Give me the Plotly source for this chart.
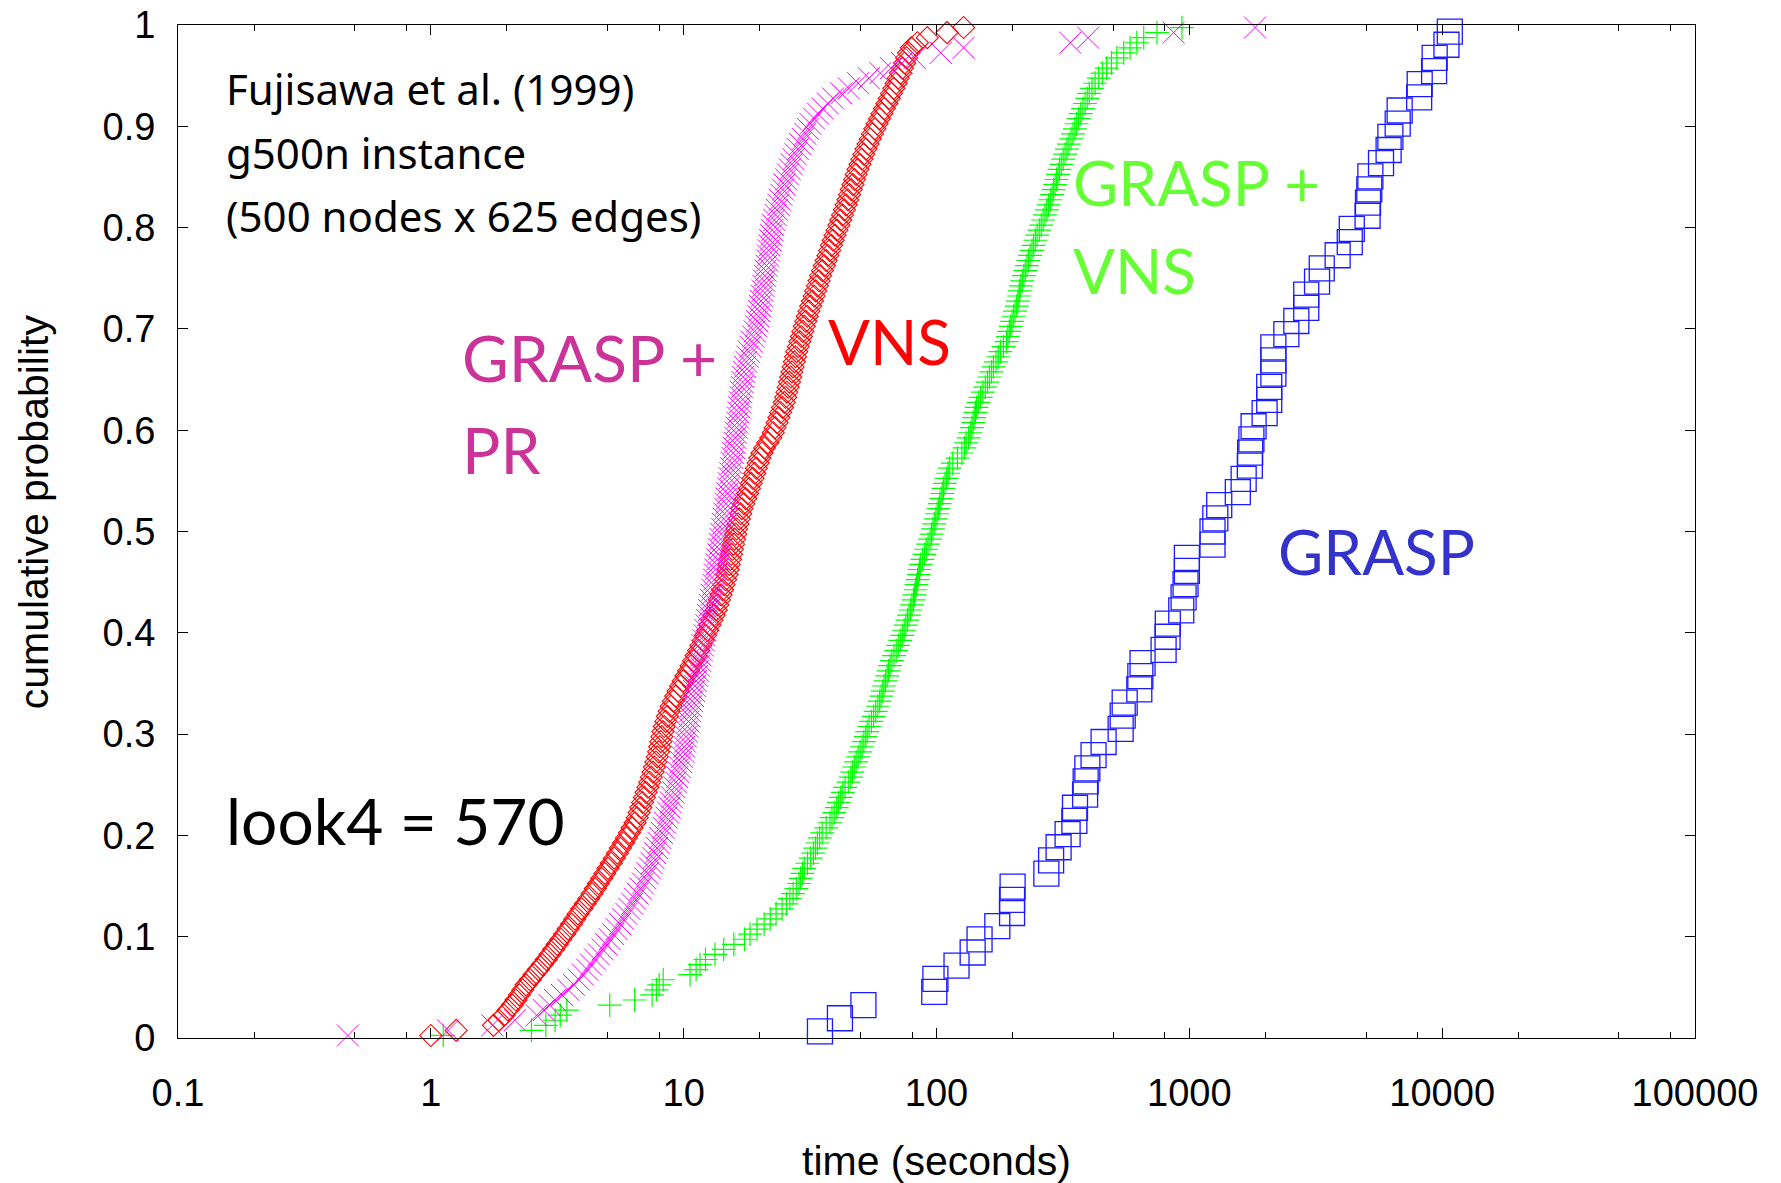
import plotly.graph_objects as go

# run times (seconds), sorted; 200 runs per method, 77 for GRASP
grasp_pr_times = [
    0.47, 1.17, 1.75, 2.15, 2.62, 2.80, 2.95, 3.10, 3.30, 3.50,
    3.68, 3.85, 4.00, 4.15, 4.30, 4.46, 4.62, 4.78, 4.94, 5.10,
    5.26, 5.43, 5.60, 5.77, 5.94, 6.10, 6.26, 6.42, 6.58, 6.74,
    6.90, 7.05, 7.20, 7.35, 7.48, 7.60, 7.72, 7.84, 7.96, 8.08,
    8.20, 8.32, 8.44, 8.56, 8.68, 8.80, 8.90, 9.00, 9.10, 9.20,
    9.31, 9.42, 9.53, 9.64, 9.75, 9.86, 9.97, 10.05, 10.13, 10.21,
    10.29, 10.37, 10.45, 10.53, 10.61, 10.70, 10.80, 10.90, 11.00, 11.10,
    11.20, 11.30, 11.40, 11.50, 11.60, 11.70, 11.80, 11.90, 12.00, 12.10,
    12.20, 12.30, 12.40, 12.50, 12.60, 12.70, 12.80, 12.90, 13.00, 13.10,
    13.20, 13.30, 13.40, 13.50, 13.60, 13.70, 13.80, 13.90, 14.00, 14.10,
    14.20, 14.30, 14.40, 14.50, 14.60, 14.70, 14.80, 14.90, 15.00, 15.10,
    15.20, 15.30, 15.40, 15.50, 15.60, 15.70, 15.80, 15.90, 16.00, 16.10,
    16.20, 16.30, 16.40, 16.50, 16.60, 16.70, 16.80, 16.90, 17.00, 17.10,
    17.20, 17.35, 17.50, 17.70, 17.90, 18.10, 18.35, 18.60, 18.85, 19.10,
    19.35, 19.55, 19.75, 19.90, 20.05, 20.20, 20.35, 20.50, 20.65, 20.80,
    20.95, 21.10, 21.25, 21.40, 21.55, 21.70, 21.85, 22.00, 22.20, 22.40,
    22.60, 22.85, 23.10, 23.40, 23.70, 24.00, 24.35, 24.70, 25.05, 25.45,
    25.85, 26.30, 26.75, 27.20, 27.70, 28.30, 28.90, 29.60, 30.30, 31.00,
    31.70, 32.80, 34.00, 35.50, 37.20, 39.0, 42.0, 45.0, 49.0, 54.0,
    60.0, 66.0, 73.0, 82.0, 104.0, 128.0, 338.0, 398.0, 867.0, 1820.0,
]

vns_times = [
    1.00, 1.26, 1.77, 1.86, 1.95, 2.02, 2.10, 2.17, 2.24, 2.31,
    2.38, 2.47, 2.56, 2.66, 2.76, 2.86, 2.96, 3.06, 3.16, 3.27,
    3.38, 3.49, 3.60, 3.71, 3.82, 3.95, 4.08, 4.21, 4.34, 4.47,
    4.60, 4.74, 4.88, 5.02, 5.17, 5.32, 5.47, 5.62, 5.78, 5.94,
    6.10, 6.25, 6.42, 6.55, 6.66, 6.77, 6.88, 6.99, 7.10, 7.22,
    7.34, 7.45, 7.56, 7.66, 7.76, 7.86, 7.96, 8.04, 8.12, 8.20,
    8.28, 8.38, 8.50, 8.62, 8.76, 8.92, 9.10, 9.30, 9.50, 9.72,
    9.95, 10.2, 10.45, 10.7, 10.95, 11.2, 11.45, 11.7, 11.95, 12.2,
    12.45, 12.7, 12.95, 13.2, 13.45, 13.65, 13.85, 14.05, 14.25, 14.45,
    14.65, 14.85, 15.0, 15.15, 15.3, 15.45, 15.6, 15.75, 15.9, 16.05,
    16.2, 16.4, 16.6, 16.8, 17.0, 17.3, 17.6, 17.9, 18.2, 18.5,
    18.8, 19.1, 19.4, 19.7, 20.0, 20.4, 20.9, 21.5, 22.1, 22.6,
    23.0, 23.4, 23.8, 24.2, 24.6, 25.0, 25.3, 25.6, 25.9, 26.2,
    26.5, 26.8, 27.1, 27.4, 27.7, 28.0, 28.4, 28.8, 29.2, 29.6,
    30.0, 30.4, 30.8, 31.3, 31.8, 32.3, 32.8, 33.3, 33.8, 34.3,
    34.8, 35.4, 36.0, 36.6, 37.2, 37.8, 38.4, 39.0, 39.7, 40.4,
    41.1, 41.8, 42.5, 43.2, 43.9, 44.6, 45.3, 46.0, 46.7, 47.4,
    48.1, 48.9, 49.8, 50.7, 51.6, 52.6, 53.6, 54.7, 55.8, 57.0,
    58.2, 59.5, 60.8, 62.2, 63.6, 65.0, 66.4, 67.8, 69.2, 70.6,
    72.0, 73.4, 74.8, 76.2, 77.6, 79.5, 84.0, 92.0, 110.0, 128.0,
]

grasp_vns_times = [
    1.12, 2.50, 2.85, 3.10, 3.25, 3.45, 5.1, 6.4, 7.5, 7.8,
    8.0, 8.3, 10.6, 11.2, 11.6, 12.2, 13.3, 14.4, 15.8, 17.4,
    18.3, 19.5, 20.8, 22.0, 23.2, 24.5, 25.5, 26.3, 27.1, 27.9,
    28.6, 29.0, 29.5, 30.0, 30.9, 31.8, 32.6, 33.2, 33.8, 34.5,
    35.3, 36.6, 37.9, 38.6, 39.4, 40.3, 41.0, 41.8, 42.6, 43.5,
    44.8, 45.8, 46.5, 47.3, 48.1, 49.0, 49.9, 50.8, 51.6, 52.5,
    53.2, 54.1, 55.3, 56.4, 57.5, 58.6, 59.6, 60.4, 61.3, 62.0,
    62.9, 63.8, 64.6, 65.5, 66.6, 67.9, 69.3, 70.6, 71.9, 73.3,
    74.5, 75.6, 76.7, 77.8, 78.9, 80.0, 81.1, 81.9, 82.6, 83.4,
    84.2, 85.0, 85.7, 86.6, 88.0, 89.6, 91.1, 92.6, 94.3, 95.6,
    96.8, 98.0, 99.4, 100.6, 101.8, 103.0, 104.2, 105.4, 106.5, 108.0,
    109.6, 111.2, 112.8, 116.0, 121.0, 126.0, 129.0, 131.0, 134.0, 136.0,
    138.0, 139.5, 141.0, 142.5, 144.0, 146.5, 149.5, 152.5, 156.0, 159.0,
    162.0, 165.0, 168.0, 172.0, 175.5, 179.0, 184.0, 189.0, 191.5, 194.0,
    196.5, 199.0, 202.0, 204.5, 207.5, 210.0, 212.0, 213.5, 215.5, 218.5,
    221.5, 224.5, 228.0, 231.0, 234.5, 238.5, 242.0, 246.0, 250.0, 255.0,
    259.5, 264.0, 268.5, 273.0, 277.5, 282.0, 286.5, 290.5, 294.5, 298.5,
    302.5, 306.5, 311.5, 317.0, 322.5, 328.0, 334.0, 340.5, 346.5, 352.5,
    358.5, 365.0, 372.0, 379.5, 387.0, 394.5, 402.0, 412.0, 424.0, 438.0,
    453.0, 471.0, 492.0, 517.0, 550.0, 583.0, 620.0, 660.0, 745.0, 935.0,
]

grasp_times = [
    34.6, 41.5, 51.4, 98.0, 99.0, 120.0, 139.0, 148.0, 174.0, 199.0,
    199.0, 200.0, 272.0, 284.0, 304.0, 330.0, 351.0, 353.0, 387.0, 389.0,
    395.0, 418.0, 458.0, 535.0, 545.0, 555.0, 634.0, 640.0, 653.0, 791.0,
    820.0, 822.0, 929.0, 949.0, 966.0, 978.0, 978.0, 1235.0, 1235.0, 1267.0,
    1313.0, 1555.0, 1640.0, 1735.0, 1740.0, 1760.0, 1795.0, 1985.0, 2070.0, 2070.0,
    2150.0, 2150.0, 2150.0, 2420.0, 2650.0, 2900.0, 2900.0, 3200.0, 3340.0, 3860.0,
    4310.0, 4390.0, 5070.0, 5090.0, 5150.0, 5200.0, 5730.0, 6140.0, 6240.0, 6670.0,
    6790.0, 8110.0, 8150.0, 9290.0, 9340.0, 10400.0, 10720.0,
]

x_tick_values = [0.1, 1, 10, 100, 1000, 10000, 100000]
x_tick_labels = ["0.1", "1", "10", "100", "1000", "10000", "100000"]
x_minor_values = [0.2, 0.5, 0.8, 2, 5, 8, 20, 50, 80, 200, 500, 800, 2000, 5000, 8000, 20000, 50000, 80000]


def cumulative(times):
    # empirical cumulative probability of the i-th fastest run
    n = len(times)
    return [(i + 0.5) / n for i in range(n)]


series = [
    (grasp_times, "square-open", 25, "#1a1aff", 1.3),
    (grasp_vns_times, "cross-thin-open", 17, "#00ff00", 1.2),
    (vns_times, "diamond-open", 17, "#ff0000", 1.1),
    (grasp_pr_times, "x-thin-open", 22, "#ff00ff", 1.0),
]

fig = go.Figure()
for times, symbol, size, color, width in series:
    fig.add_trace(go.Scatter(
        x=times, y=cumulative(times), mode="markers", cliponaxis=False, showlegend=False,
        marker=dict(symbol=symbol, size=size, color=color, line=dict(color=color, width=width)),
    ))

notes = [
    ("Fujisawa et al. (1999)", 0.0303, 0.937, 42, "#000000", "Noto Sans"),
    ("g500n instance", 0.0303, 0.8746, 42, "#000000", "Noto Sans"),
    ("(500 nodes x 625 edges)", 0.0303, 0.8115, 42, "#000000", "Noto Sans"),
    ("look4 = 570", 0.0303, 0.2152, 64, "#000000", "Lato"),
    ("GRASP +", 0.1859, 0.6713, 64, "#cc3399", "Lato"),
    ("PR", 0.1859, 0.5814, 64, "#cc3399", "Lato"),
    ("VNS", 0.4272, 0.688, 62, "#ff0000", "Lato"),
    ("GRASP +", 0.5887, 0.845, 62, "#66ff33", "Lato"),
    ("VNS", 0.5887, 0.758, 62, "#66ff33", "Lato"),
    ("GRASP", 0.7238, 0.4808, 62, "#3333cc", "Lato"),
]
for text, x, y, size, color, family in notes:
    fig.add_annotation(text=text, x=x, y=y, xref="paper", yref="paper", xanchor="left", yanchor="middle",
                       showarrow=False, font=dict(family=family, size=size, color=color))

tick_font = dict(family="Liberation Sans, Arial, sans-serif", size=38, color="#000000")
title_font = dict(family="Liberation Sans, Arial, sans-serif", size=41, color="#000000")
fig.add_annotation(text="cumulative probability", x=-0.0949, y=0.519, xref="paper", yref="paper",
                   xanchor="center", yanchor="middle", textangle=-90, showarrow=False, font=title_font)
fig.add_annotation(text="time (seconds)", x=0.5, y=-0.1214, xref="paper", yref="paper",
                   xanchor="center", yanchor="middle", showarrow=False, font=title_font)

fig.update_xaxes(
    type="log", range=[-1, 5], tickmode="array", tickvals=x_tick_values, ticktext=x_tick_labels,
    ticks="inside", ticklen=10, tickcolor="#000000", showline=True, linecolor="#000000", linewidth=1,
    mirror="allticks", showgrid=False, zeroline=False, tickfont=tick_font, ticklabelstandoff=21,
    automargin=False,
    minor=dict(tickmode="array", tickvals=x_minor_values, ticks="inside", ticklen=6, tickcolor="#000000", showgrid=False),
)
fig.update_yaxes(
    range=[0, 1], dtick=0.1, ticks="inside", ticklen=10, tickcolor="#000000", showline=True,
    linecolor="#000000", linewidth=1, mirror="allticks", showgrid=False, zeroline=False,
    tickfont=tick_font, ticklabelstandoff=14, automargin=False,
)
fig.update_layout(
    width=1781, height=1183, plot_bgcolor="#ffffff", paper_bgcolor="#ffffff",
    margin=dict(l=178, r=86, t=25, b=145),
)
fig.write_html("out.html", config={"displayModeBar": False},
               post_script="document.body.style.margin='0';")
